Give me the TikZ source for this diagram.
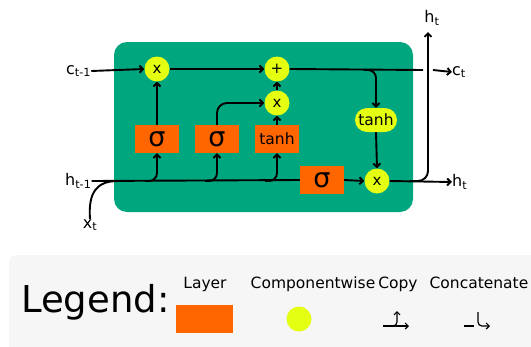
\documentclass[tikz,border=0pt]{standalone}
\usepackage{fontspec}
\setmainfont{DejaVu Sans}
\usetikzlibrary{arrows.meta,shapes.misc}
\definecolor{cellgreen}{RGB}{0,166,126}
\definecolor{layerorange}{RGB}{255,102,0}
\definecolor{opyellow}{RGB}{229,255,18}
\definecolor{legendgray}{RGB}{246,246,246}
\begin{document}
\begin{tikzpicture}[x=1pt,y=-1pt,
  flow/.style={line width=1.9pt, draw=black},
  arr/.style={flow,-{Straight Barb[length=3.5pt,width=7pt]}},
  legarr/.style={line width=1.2pt, draw=black,-{Straight Barb[length=3pt,width=6pt]}},
  layer/.style={fill=layerorange, draw=none, minimum width=44pt, minimum height=28pt, inner sep=0pt, font=\fontsize{15.5}{18}\selectfont},
  sigmabox/.style={layer, font=\fontsize{27}{30}\selectfont},
  op/.style={circle, fill=opyellow, draw=none, minimum size=25pt, inner sep=0pt, font=\fontsize{15}{16}\selectfont},
  optanh/.style={rounded rectangle, fill=opyellow, draw=none, minimum width=42pt, minimum height=24pt, inner sep=0pt, font=\fontsize{15.5}{18}\selectfont},
  lbl/.style={font=\fontsize{16}{18}\selectfont, inner sep=0pt},
  legtext/.style={font=\fontsize{15.5}{18}\selectfont, inner sep=0pt}
]
\useasboundingbox (0,0) rectangle (531,346);
% legend background
\fill[legendgray, rounded corners=8pt] (9,255) rectangle (560,370);
% cell
\node[fill=cellgreen, rounded corners=13pt, minimum width=299pt, minimum height=170pt, inner sep=0pt] (cell) at (263.5,127) {};
% operators and layers
\node[op] (mul1) at (157,69) {x};
\node[op] (add) at (277,69) {+};
\node[op] (mul2) at (277,103) {x};
\node[sigmabox] (sg1) at (157,139) {σ};
\node[sigmabox] (sg2) at (217,139) {σ};
\node[layer] (th1) at (277,139) {tanh};
\node[sigmabox] (sg3) at (322,180) {σ};
\node[optanh] (th2) at (376,120) {tanh};
\node[op] (mul3) at (377,181) {x};
% labels
\node[lbl, anchor=west] (cin) at (66,71) {c\textsubscript{t-1}};
\node[lbl, anchor=west] (hin) at (65,181) {h\textsubscript{t-1}};
\node[lbl] (xin) at (90,225) {x\textsubscript{t}};
\node[lbl, anchor=west] (cout) at (452,72) {c\textsubscript{t}};
\node[lbl, anchor=west] (hout) at (452,182) {h\textsubscript{t}};
\node[lbl] (htop) at (432,18) {h\textsubscript{t}};
\coordinate (cgapL) at (423,70);
\coordinate (cgapR) at (433,70);
\coordinate (htip) at (428,32);
\coordinate (hsplit) at (410,181);
\coordinate (csplit) at (364,70);
% cell state line
\draw[arr] (cin.east) -- (mul1.west);
\draw[arr] (mul1.east) -- (add.west);
\draw[flow] (add.east) -- (cgapL);
\draw[arr] (cgapR) -- (cout.west);
\draw[arr, rounded corners=8pt] (csplit) -| (th2.north);
\draw[arr] (th2.south) -- (mul3.north);
% hidden / input line
\draw[flow] (xin.north) .. controls (88,192) and (97,181) .. (118,181);
\draw[flow] (hin.east) -- (sg3.west);
\draw[arr, rounded corners=8pt] (145,181) -| (sg1.south);
\draw[arr, rounded corners=8pt] (205,181) -| (sg2.south);
\draw[arr, rounded corners=8pt] (265,181) -| (th1.south);
\draw[arr] (sg1.north) -- (mul1.south);
\draw[arr, rounded corners=10pt] (sg2.north) |- (mul2.west);
\draw[arr] (th1.north) -- (mul2.south);
\draw[arr] (mul2.north) -- (add.south);
\draw[arr] (sg3.east) -- (mul3.west);
\draw[arr] (mul3.east) -- (hout.west);
\draw[arr, rounded corners=10pt] (hsplit) -| (htip);
% legend
\node[font=\fontsize{37}{40}\selectfont, anchor=base west, inner sep=0pt] (legend) at (21,312) {Legend:};
\node[legtext, anchor=base] (ltLayer) at (205,288) {Layer};
\node[legtext, anchor=base] (ltComp) at (313,288) {Componentwise};
\node[legtext, anchor=base] (ltCopy) at (398,288) {Copy};
\node[legtext, anchor=base] (ltConcat) at (479,288) {Concatenate};
\node[layer, minimum width=57pt, minimum height=28pt] (legLayer) at (204.5,319) {};
\node[op] (legOp) at (299,319) {};
\draw[legarr] (383,326) -- (409,326);
\draw[legarr, rounded corners=4pt] (389,326) -| (397,311);
\draw[line width=1.2pt] (464,326) -- (474,326);
\draw[legarr, rounded corners=4pt] (478,312) |- (490,326);
\end{tikzpicture}
\end{document}
